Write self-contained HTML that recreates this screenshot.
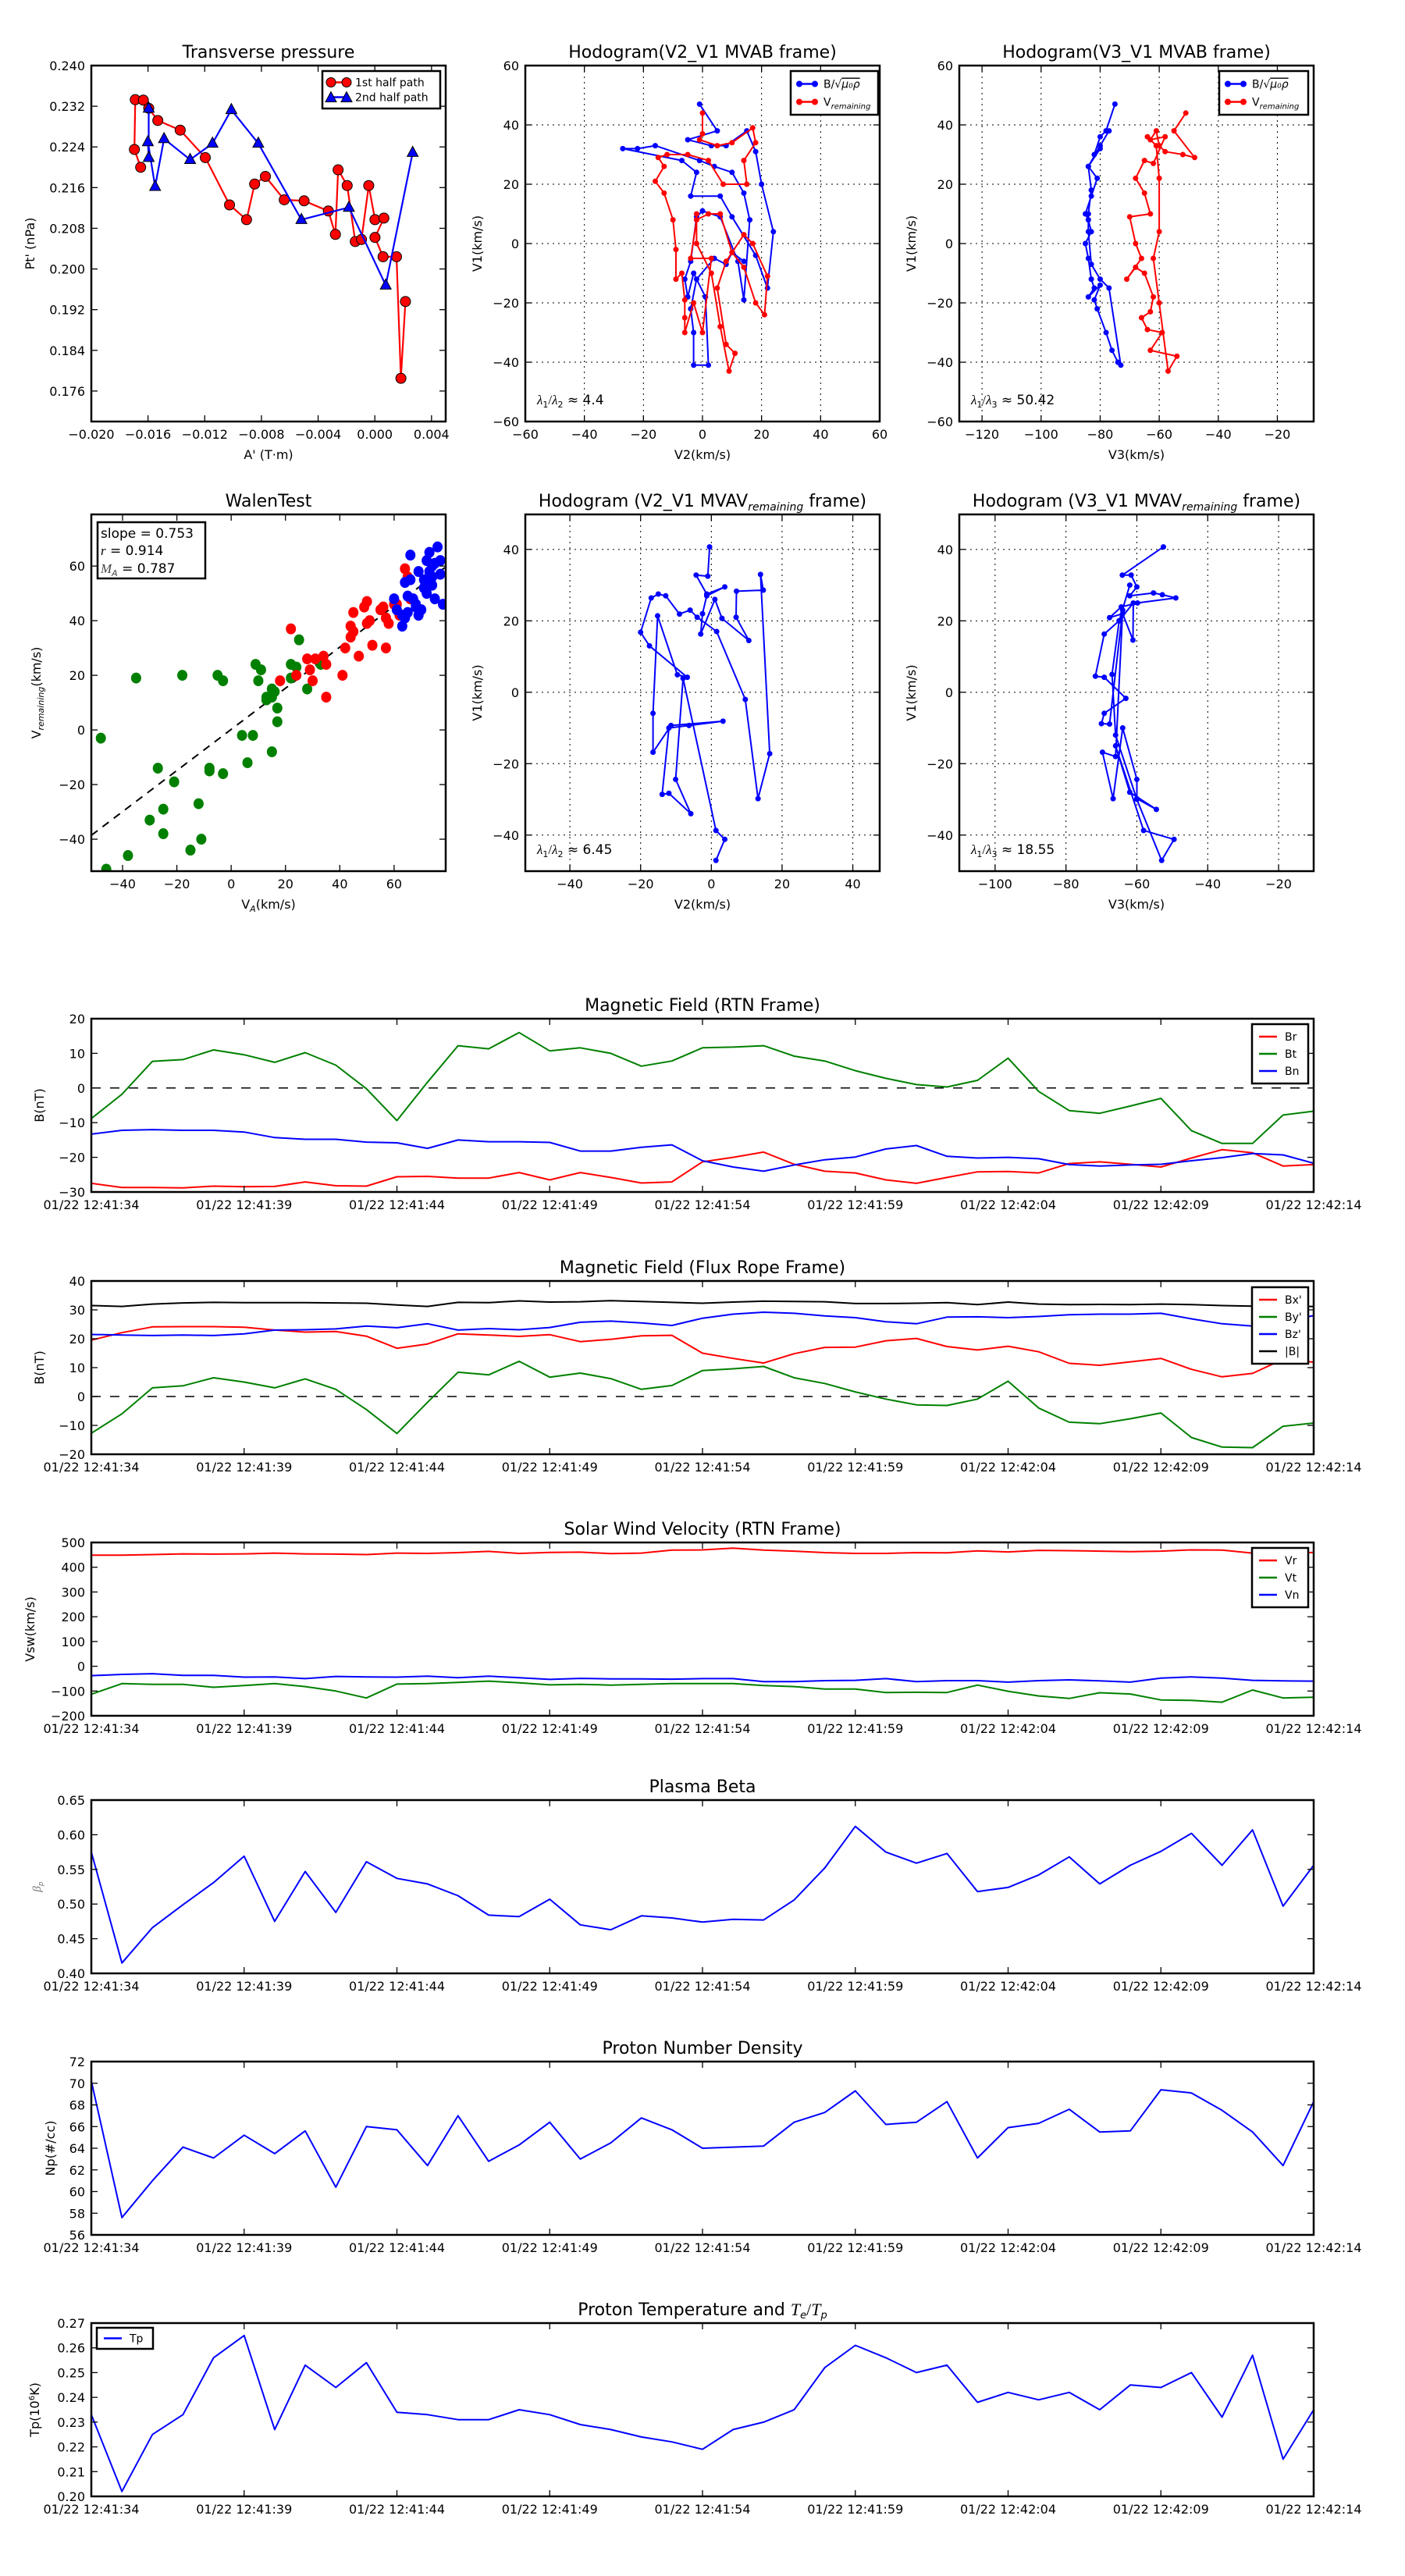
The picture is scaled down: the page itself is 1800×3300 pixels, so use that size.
<!DOCTYPE html>
<html><head><meta charset="utf-8"><title>MVA analysis figure</title>
<style>
html,body{margin:0;padding:0;background:#fff;}
svg{display:block;font-family:"DejaVu Sans","Liberation Sans",sans-serif;}
</style></head>
<body>
<svg id="fig" xmlns="http://www.w3.org/2000/svg" width="1800" height="3300" viewBox="0 0 1800 3300">
<rect x="0" y="0" width="1800" height="3300" fill="#fff"/>
</svg>
<script>
// ===== Time series data (t = 0..40 s from 12:41:34) =====
const timeTickLabels = ["01/22 12:41:34","01/22 12:41:39","01/22 12:41:44","01/22 12:41:49","01/22 12:41:54","01/22 12:41:59","01/22 12:42:04","01/22 12:42:09","01/22 12:42:14"];
const Br = [-27.5,-28.7,-28.7,-28.8,-28.3,-28.5,-28.4,-27.1,-28.2,-28.3,-25.6,-25.5,-26,-26,-24.4,-26.5,-24.4,-25.8,-27.4,-27.1,-21.3,-20,-18.5,-22,-24,-24.5,-26.5,-27.5,-25.8,-24.2,-24.1,-24.5,-21.8,-21.3,-22,-22.8,-20.2,-17.8,-18.7,-22.5,-22.1];
const Bt = [-8.8,-1.8,7.7,8.2,11,9.6,7.4,10.2,6.6,-0.2,-9.4,1.7,12.2,11.3,16,10.7,11.6,10,6.3,7.8,11.6,11.8,12.2,9.2,7.8,5,2.8,1,0.3,2.2,8.6,-1,-6.5,-7.3,-5.2,-3,-12.3,-16,-16,-7.8,-6.7];
const Bn = [-13.3,-12.2,-12,-12.2,-12.2,-12.7,-14.3,-14.8,-14.8,-15.6,-15.8,-17.4,-15,-15.5,-15.5,-15.7,-18.2,-18.2,-17.1,-16.4,-21,-22.8,-24,-22.2,-20.7,-19.9,-17.6,-16.6,-19.7,-20.2,-20,-20.4,-22.1,-22.5,-22.2,-22,-21,-20.1,-18.9,-19.3,-21.7];
const Bxp = [19.5,22.1,24.1,24.2,24.2,24,23,22.3,22.5,20.9,16.7,18.2,21.7,21.3,20.8,21.4,19,19.8,21,21.2,15,13.2,11.6,14.8,17,17.1,19.3,20.1,17.3,16.1,17.4,15.5,11.5,10.8,12,13.2,9.4,6.8,8,12.9,11.9];
const Byp = [-12.7,-6,3,3.7,6.5,5,3,6.1,2.5,-4.5,-12.8,-2,8.4,7.5,12.2,6.7,8.1,6.2,2.5,3.8,9,9.6,10.4,6.5,4.5,1.6,-0.9,-2.9,-3.1,-0.9,5.3,-4,-8.9,-9.4,-7.7,-5.7,-14.2,-17.5,-17.7,-10.3,-9.2];
const Bzp = [21.5,21.3,21.1,21.3,21.1,21.7,23,23.1,23.4,24.4,23.8,25.2,23,23.5,23.1,23.9,25.7,26.1,25.5,24.6,27.1,28.5,29.2,28.8,27.9,27.3,25.9,25.2,27.5,27.6,27.3,27.7,28.3,28.5,28.5,28.8,26.9,25.2,24.4,26,28];
const Bmag = [31.5,31.2,32,32.4,32.6,32.5,32.5,32.5,32.4,32.3,31.7,31.2,32.6,32.5,33.1,32.7,32.8,33.2,32.9,32.6,32.3,32.7,33,32.9,32.8,32.2,32.2,32.3,32.5,31.8,32.7,32,31.8,31.9,31.8,32,31.8,31.5,31.3,31.1,31.2];
const Vr = [449,449,451,454,453,454,457,454,453,451,457,456,459,464,456,460,461,455,457,469,470,477,469,465,459,456,456,459,458,466,462,468,467,465,463,465,470,469,457,455,460];
const Vt = [-113,-70,-73,-73,-85,-78,-70,-82,-100,-128,-72,-70,-65,-60,-67,-75,-73,-76,-73,-70,-70,-70,-78,-82,-92,-92,-106,-105,-106,-76,-101,-120,-130,-107,-112,-136,-138,-145,-96,-128,-125];
const Vn = [-38,-33,-30,-37,-37,-44,-43,-50,-41,-43,-44,-40,-46,-40,-46,-53,-49,-51,-51,-52,-50,-50,-62,-62,-58,-57,-50,-62,-58,-58,-64,-58,-55,-59,-64,-48,-43,-48,-57,-59,-60];
const beta = [0.575,0.415,0.466,0.499,0.531,0.569,0.475,0.547,0.488,0.561,0.537,0.529,0.512,0.484,0.482,0.507,0.470,0.463,0.483,0.480,0.474,0.478,0.477,0.506,0.552,0.612,0.575,0.559,0.573,0.518,0.524,0.542,0.568,0.529,0.556,0.576,0.602,0.556,0.607,0.497,0.556];
const Np = [70.2,57.6,61,64.1,63.1,65.2,63.5,65.6,60.4,66,65.7,62.4,67,62.8,64.3,66.4,63,64.5,66.8,65.7,64,64.1,64.2,66.4,67.3,69.3,66.2,66.4,68.3,63.1,65.9,66.3,67.6,65.5,65.6,69.4,69.1,67.5,65.5,62.4,68.3];
const Tp = [0.233,0.202,0.225,0.233,0.256,0.265,0.227,0.253,0.244,0.254,0.234,0.233,0.231,0.231,0.235,0.233,0.229,0.227,0.224,0.222,0.219,0.227,0.230,0.235,0.252,0.261,0.256,0.250,0.253,0.238,0.242,0.239,0.242,0.235,0.245,0.244,0.250,0.232,0.257,0.215,0.235];

// ===== Transverse pressure =====
const ptA1 = [-0.01652,-0.01696,-0.01690,-0.01633,-0.01595,-0.01531,-0.01373,-0.01196,-0.01025,-0.00905,-0.00848,-0.00772,-0.00639,-0.00499,-0.00328,-0.00278,-0.00259,-0.00195,-0.00138,-0.00094,-0.00043,0.00001,0.00064,0.00001,0.00058,0.00153,0.00184,0.00216];
const ptP1 = [0.2200,0.2235,0.2333,0.2332,0.2316,0.2292,0.2273,0.2219,0.2126,0.2097,0.2167,0.2182,0.2136,0.2134,0.2114,0.2068,0.2195,0.2164,0.2054,0.2058,0.2164,0.2097,0.2100,0.2062,0.2024,0.2024,0.1785,0.1936];
const ptA2 = [-0.01595,-0.01595,-0.01601,-0.01550,-0.01487,-0.01303,-0.01145,-0.01012,-0.00822,-0.00518,-0.00183,0.00077,0.00267];
const ptP2 = [0.2316,0.2219,0.2250,0.2162,0.2256,0.2215,0.2247,0.2313,0.2247,0.2097,0.2121,0.1968,0.2229];

// ===== Hodogram MVAB V2-V1 =====
const h1BV2 = [-1,5,-5,3,8,15,18,20,24,22,18,10,6,-4,-2,-7,-27,-22,-16,-1,4,10,14,16,14,12,6,0,-2,-4,-6,-5,-3,1,2,-3,-3,-4,-2,4,8,10,14];
const h1BV1 = [47,38,35,33,33,38,31,20,4,-15,-4,9,16,16,24,28,32,32,33,28,26,24,17,8,-19,-6,9,11,9,-6,-12,-18,-10,-18,-41,-41,-30,-22,-12,-5,-7,-3,-6];
const h1VV2 = [0,0,-1,5,10,17,18,14,15,7,2,-5,-12,-15,-13,-16,-13,-10,-9,-9,-7,-6,-6,-6,-3,0,3,-4,-2,2,6,10,14,18,21,22,17,14,8,5,8,11,9,6,3,-2,-2];
const h1VV1 = [44,37,35,33,34,39,34,28,20,20,28,30,30,29,26,21,17,8,-2,-12,-10,-19,-25,-30,-20,-30,-5,-5,8,10,10,-3,-8,-20,-24,-11,0,3,-6,-15,-34,-37,-43,-28,-10,0,10];
// ===== Hodogram MVAB V3-V1 =====
const h2BV3 = [-75,-78,-80,-82,-80,-84,-81,-83,-85,-84,-83,-85,-84,-83,-82,-84,-80,-82,-81,-78,-76,-74,-73,-77,-80,-83,-84,-84,-83,-84,-80,-77];
const h2BV1 = [47,38,36,30,32,26,22,16,10,8,4,0,-5,-12,-15,-18,-14,-19,-22,-30,-36,-40,-41,-15,-12,-7,4,10,18,26,33,38];
const h2VV3 = [-51,-55,-48,-52,-58,-60,-61,-63,-58,-62,-65,-68,-65,-63,-70,-68,-66,-71,-68,-65,-62,-63,-66,-64,-59,-63,-54,-57,-60,-62,-60,-60,-61,-64];
const h2VV1 = [44,38,29,30,31,33,38,35,36,27,28,22,17,10,9,0,-5,-12,-8,-10,-18,-23,-25,-29,-30,-36,-38,-43,-20,-5,4,22,33,36];
// ===== Walen test =====
const wGreenX = [-48,-35,-18,-5,-3,-27,-21,-8,-8,-3,-12,-25,-30,-25,-38,-11,-15,-46,4,8,6,15,10,11,9,13,15,15,17,17,22,22,24,25,28,33,16,13];
const wGreenY = [-3,19,20,20,18,-14,-19,-14,-15,-16,-27,-29,-33,-38,-46,-40,-44,-51,-2,-2,-12,-8,18,22,24,11,12,15,8,3,24,19,23,33,15,24,14,12];
const wRedX = [18,22,24,28,29,30,31,34,35,35,41,42,44,44,45,47,49,50,51,52,55,56,57,57,58,60,61,62,64,65,66,50,45];
const wRedY = [18,37,20,26,22,18,26,27,24,12,20,30,34,38,43,27,45,47,40,31,44,45,41,30,39,46,46,42,59,56,48,39,36];
const wBlueX = [60,61,63,64,65,66,66,67,68,69,70,71,71,72,73,74,74,75,75,76,77,78,77,64,68,63,69,72,74,73,65];
const wBlueY = [48,44,42,54,49,64,55,48,45,58,44,52,55,62,58,60,53,61,48,67,57,46,62,41,46,38,42,50,56,65,43];
const walenSlope = [0.753];
const walenIntercept = [0.2];
// ===== Hodogram MVAV V2-V1 =====
const h3V2 = [-0.5,-1,-4.3,-1.3,3.8,-1.3,-2.5,-3,1,3,10.6,7,7.1,14.7,13.9,16.5,13.2,9.6,1.5,-4,-6,-9,-12.9,-15,-17,-20,-17.5,-6.8,-9.6,-15.2,-16.5,-16.5,-11.4,3.3,-6.3,-12,-13.9,-12,-5.8,-10.1,-8,1.3,3.8,1.3];
const h3V1 = [40.7,32.5,32.8,27.5,29.5,27,22,16.3,26,20.7,14.5,21,28.3,28.6,33,-17.2,-29.8,-2,17,21,23,21.9,27,27.5,26.4,16.8,13,4.2,4.9,21.4,-5.9,-16.8,-9.3,-8.1,-9.3,-10,-28.6,-28.3,-34,-24.4,3.9,-38.7,-41.2,-47.1];
// ===== Hodogram MVAV V3-V1 =====
const h4V3 = [-52.5,-64.1,-61.6,-60,-62,-55.3,-52.8,-49,-59.8,-64.4,-67.7,-64,-61.1,-61,-65,-69.2,-71.7,-69.2,-63.1,-69.2,-70,-67.7,-64,-66,-69.7,-66.7,-64,-60,-60,-54.5,-62,-66,-58.1,-49.5,-53,-60,-66,-67,-65,-62];
const h4V1 = [40.7,32.8,32.8,29.5,27,27.8,27.3,26.4,25,23.9,20.9,22,14.6,25,20,16.3,4.5,4.2,-1.7,-5.9,-8.8,-8.9,23,-18,-16.8,-29.8,-10,-24.4,-29.8,-32.8,-28,-15,-38.7,-41.2,-47.1,-30,-12,5,20,30];

const NS = 'http://www.w3.org/2000/svg';
const svg = document.getElementById('fig');
function mk(tag, attrs, parent) {
  const e = document.createElementNS(NS, tag);
  for (const k in attrs) e.setAttribute(k, attrs[k]);
  (parent || svg).appendChild(e);
  return e;
}
function txt(str, x, y, size, anchor, parent, extra) {
  const t = mk('text', Object.assign({x: x, y: y, 'font-size': size, 'text-anchor': anchor || 'middle', fill: '#000'}, extra || {}), parent);
  t.textContent = str;
  return t;
}

function makeAxes(o) {
  const g = mk('g', {});
  
  
  const sx = v => o.x0 + (v - o.xmin) / (o.xmax - o.xmin) * o.w;
  const sy = v => o.y0 + o.h - (v - o.ymin) / (o.ymax - o.ymin) * o.h;
  // clip
  const cid = 'clip-' + o.name;
  const cp = mk('clipPath', {id: cid}, g);
  mk('rect', {x: o.x0, y: o.y0, width: o.w, height: o.h}, cp);
  const grid = mk('g', {}, g);
  
  
  const plot = mk('g', {'clip-path': 'url(#' + cid + ')'}, g);
  
  
  const ticksG = mk('g', {}, g);
  
  
  // x ticks
  o.xticks.forEach((v, i) => {
    const X = sx(v);
    if (o.grid) {
      const gl = mk('line', {x1: X, y1: o.y0, x2: X, y2: o.y0 + o.h, stroke: '#000', 'stroke-width': 1, 'stroke-dasharray': '2,5'}, grid);
      
      
    }
    mk('line', {x1: X, y1: o.y0 + o.h, x2: X, y2: o.y0 + o.h - 8, stroke: '#000', 'stroke-width': 1.3}, ticksG);
    mk('line', {x1: X, y1: o.y0, x2: X, y2: o.y0 + 8, stroke: '#000', 'stroke-width': 1.3}, ticksG);
    const lab = txt(o.xlabels[i], X, o.y0 + o.h + 22, 16, 'middle', ticksG);
    
    
  });
  o.yticks.forEach((v, i) => {
    const Y = sy(v);
    if (o.grid) {
      const gl = mk('line', {x1: o.x0, y1: Y, x2: o.x0 + o.w, y2: Y, stroke: '#000', 'stroke-width': 1, 'stroke-dasharray': '2,5'}, grid);
      
      
    }
    mk('line', {x1: o.x0, y1: Y, x2: o.x0 + 8, y2: Y, stroke: '#000', 'stroke-width': 1.3}, ticksG);
    mk('line', {x1: o.x0 + o.w, y1: Y, x2: o.x0 + o.w - 8, y2: Y, stroke: '#000', 'stroke-width': 1.3}, ticksG);
    const lab = txt(o.ylabels[i], o.x0 - 8, Y + 6, 16, 'end', ticksG);
    
    
  });
  const frame = mk('rect', {x: o.x0, y: o.y0, width: o.w, height: o.h, fill: 'none', stroke: '#000', 'stroke-width': 2.5}, g);
  
  
  if (o.title) {
    const t = txt('', o.x0 + o.w / 2, o.y0 - 10, 22, 'middle', g);
    t.innerHTML = o.title;
    
    
  }
  if (o.xtitle) {
    const t = txt('', o.x0 + o.w / 2, o.y0 + o.h + 48, 16, 'middle', g);
    t.innerHTML = o.xtitle;
    
    
  }
  if (o.ytitle) {
    const yx = o.ytx, yy = o.y0 + o.h / 2;
    const t = txt('', yx, yy, o.ytsize || 16, 'middle', g, {transform: 'rotate(-90 ' + yx + ' ' + yy + ')', fill: o.ytcolor || '#000'});
    t.innerHTML = o.ytitle;
    
    
  }
  return {sx, sy, plot, g};
}

function line(ax, xs, ys, color, name, width, dots, dotR) {
  const pts = xs.map((x, i) => ax.sx(x).toFixed(1) + ',' + ax.sy(ys[i]).toFixed(1)).join(' ');
  const pl = mk('polyline', {points: pts, fill: 'none', stroke: color, 'stroke-width': width || 2, 'stroke-linejoin': 'round'}, ax.plot);
  
  
  if (dots) {
    xs.forEach((x, i) => {
      const c = mk('circle', {cx: ax.sx(x), cy: ax.sy(ys[i]), r: dotR || 4, fill: color}, ax.plot);
      
      
    });
  }
  return pl;
}

function legend(g, x, y, w, entries, rowH, fs) {
  const lg = mk('g', {}, g);
  
  
  const box = mk('rect', {x: x, y: y, width: w, height: entries.length * rowH + 10, fill: '#fff', stroke: '#000', 'stroke-width': 2.5}, lg);
  
  
  entries.forEach((e, i) => {
    const cy = y + 5 + rowH * (i + 0.5);
    const eg = mk('g', {}, lg);
    
    
    mk('line', {x1: x + 9, y1: cy, x2: x + 32, y2: cy, stroke: e.color, 'stroke-width': 2.5}, eg);
    if (e.marker === 'circle') { mk('circle', {cx: x + 11, cy: cy, r: e.r || 6, fill: e.color, stroke: e.edge || 'none', 'stroke-width': 1}, eg); mk('circle', {cx: x + 31, cy: cy, r: e.r || 6, fill: e.color, stroke: e.edge || 'none', 'stroke-width': 1}, eg); }
    if (e.marker === 'tri') { [x + 11, x + 31].forEach(px => mk('polygon', {points: (px) + ',' + (cy - 7) + ' ' + (px - 7) + ',' + (cy + 6) + ' ' + (px + 7) + ',' + (cy + 6), fill: e.color, stroke: '#000', 'stroke-width': 1}, eg)); }
    const t = txt('', x + 42, cy + 5, fs || 14, 'start', eg);
    t.innerHTML = e.label;
  });
}

function rng(a, b, s) { const r = []; for (let v = a; v <= b + 1e-9; v += s) r.push(+v.toFixed(6)); return r; }
const tIdx = Br.map((_, i) => i);

// ---------- Transverse pressure ----------
{
  const xt = rng(-0.020, 0.004, 0.004), yt = rng(0.176, 0.240, 0.008);
  const ax = makeAxes({name: 'transverse-pressure', x0: 117, y0: 84, w: 454, h: 456, xmin: -0.020, xmax: 0.005, ymin: 0.170, ymax: 0.240,
    xticks: xt, xlabels: xt.map(v => (v < 0 ? '\u2212' : '') + Math.abs(v).toFixed(3)), yticks: yt, ylabels: yt.map(v => v.toFixed(3)),
    title: 'Transverse pressure', xtitle: "A' (T\u00b7m)", ytitle: "Pt' (nPa)", ytx: 44});
  line(ax, ptA1, ptP1, '#ff0000', 'first-half-path', 2.2);
  ptA1.forEach((a, i) => { const c = mk('circle', {cx: ax.sx(a), cy: ax.sy(ptP1[i]), r: 6.5, fill: '#ff0000', stroke: '#000', 'stroke-width': 1}, ax.plot);
      });
  line(ax, ptA2, ptP2, '#0000ff', 'second-half-path', 2.2);
  ptA2.forEach((a, i) => { const X = ax.sx(a), Y = ax.sy(ptP2[i]);
    const p = mk('polygon', {points: X + ',' + (Y - 8) + ' ' + (X - 7) + ',' + (Y + 5) + ' ' + (X + 7) + ',' + (Y + 5), fill: '#0000ff', stroke: '#000', 'stroke-width': 1}, ax.plot);
      });
  legend(ax.g, 413, 91, 151, [{color: '#ff0000', marker: 'circle', edge: '#000', label: '1st half path'}, {color: '#0000ff', marker: 'tri', label: '2nd half path'}], 19, 14);
}

const sqrtLbl = 'B/\u221a<tspan font-style="italic" text-decoration="overline">\u03bc\u2080\u03c1</tspan>';
const vremLbl = 'V<tspan font-size="10" font-style="italic" dy="4">remaining</tspan>';

// ---------- Hodogram V2_V1 MVAB ----------
{
  const t = rng(-60, 60, 20);
  const ax = makeAxes({name: 'hodogram-v2-v1-mvab', x0: 673, y0: 84, w: 454, h: 456, xmin: -60, xmax: 60, ymin: -60, ymax: 60, grid: true,
    xticks: t, xlabels: t.map(v => String(v).replace('-', '\u2212')), yticks: t, ylabels: t.map(v => String(v).replace('-', '\u2212')),
    title: 'Hodogram(V2_V1 MVAB frame)', xtitle: 'V2(km/s)', ytitle: 'V1(km/s)', ytx: 617});
  line(ax, h1BV2, h1BV1, '#0000ff', 'b-hodogram-line', 2, true, 3.5);
  line(ax, h1VV2, h1VV1, '#ff0000', 'v-hodogram-line', 2, true, 3.5);
  legend(ax.g, 1013, 91, 112, [{color: '#0000ff', marker: 'circle', r: 4, label: sqrtLbl}, {color: '#ff0000', marker: 'circle', r: 4, label: vremLbl}], 23, 14);
  const l = txt('', 688, 518, 17, 'start', ax.g); l.innerHTML = '<tspan font-style="italic" font-family="Liberation Serif">\u03bb</tspan><tspan font-size="11" dy="4">1</tspan><tspan dy="-4" font-family="Liberation Serif">/</tspan><tspan font-style="italic" font-family="Liberation Serif">\u03bb</tspan><tspan font-size="11" dy="4">2</tspan><tspan dy="-4"> \u2248 4.4</tspan>';
   
}
// ---------- Hodogram V3_V1 MVAB ----------
{
  const xt = rng(-120, -20, 20), yt = rng(-60, 60, 20);
  const ax = makeAxes({name: 'hodogram-v3-v1-mvab', x0: 1229, y0: 84, w: 454, h: 456, xmin: -127.7, xmax: -7.7, ymin: -60, ymax: 60, grid: true,
    xticks: xt, xlabels: xt.map(v => String(v).replace('-', '\u2212')), yticks: yt, ylabels: yt.map(v => String(v).replace('-', '\u2212')),
    title: 'Hodogram(V3_V1 MVAB frame)', xtitle: 'V3(km/s)', ytitle: 'V1(km/s)', ytx: 1173});
  line(ax, h2BV3, h2BV1, '#0000ff', 'b-hodogram-line', 2, true, 3.5);
  line(ax, h2VV3, h2VV1, '#ff0000', 'v-hodogram-line', 2, true, 3.5);
  legend(ax.g, 1562, 91, 114, [{color: '#0000ff', marker: 'circle', r: 4, label: sqrtLbl}, {color: '#ff0000', marker: 'circle', r: 4, label: vremLbl}], 23, 14);
  const l = txt('', 1244, 518, 17, 'start', ax.g); l.innerHTML = '<tspan font-style="italic" font-family="Liberation Serif">\u03bb</tspan><tspan font-size="11" dy="4">1</tspan><tspan dy="-4" font-family="Liberation Serif">/</tspan><tspan font-style="italic" font-family="Liberation Serif">\u03bb</tspan><tspan font-size="11" dy="4">3</tspan><tspan dy="-4"> \u2248 50.42</tspan>';
   
}
// ---------- Walen test ----------
{
  const t = rng(-40, 60, 20);
  const ax = makeAxes({name: 'walen-test', x0: 117, y0: 659, w: 454, h: 457, xmin: -51.5, xmax: 79, ymin: -51.7, ymax: 78.9,
    xticks: t, xlabels: t.map(v => String(v).replace('-', '\u2212')), yticks: t, ylabels: t.map(v => String(v).replace('-', '\u2212')),
    title: 'WalenTest', xtitle: 'V<tspan font-size="11" font-style="italic" dy="4">A</tspan><tspan dy="-4">(km/s)</tspan>', ytitle: 'V<tspan font-size="11" font-style="italic" dy="4">remaining</tspan><tspan dy="-4">(km/s)</tspan>', ytx: 52});
  const xs = [-51.5, 79];
  const dl = mk('line', {x1: ax.sx(xs[0]), y1: ax.sy(walenSlope[0] * xs[0] + walenIntercept[0]), x2: ax.sx(xs[1]), y2: ax.sy(walenSlope[0] * xs[1] + walenIntercept[0]), stroke: '#000', 'stroke-width': 2, 'stroke-dasharray': '10,8'}, ax.plot);
   
  [[wGreenX, wGreenY, '#008000', 'green'], [wRedX, wRedY, '#ff0000', 'red'], [wBlueX, wBlueY, '#0000ff', 'blue']].forEach(s => {
    s[0].forEach((x, i) => { const c = mk('ellipse', {cx: ax.sx(x), cy: ax.sy(s[1][i]), rx: 6.5, ry: 7, fill: s[2]}, ax.plot);
        });
  });
  const box = mk('rect', {x: 125, y: 669, width: 138, height: 72, fill: '#fff', stroke: '#000', 'stroke-width': 2.5}, ax.g);
   
  const s1 = txt('slope = 0.753', 129, 689, 17, 'start', ax.g);  
  const s2 = txt('', 129, 711, 17, 'start', ax.g); s2.innerHTML = '<tspan font-style="italic" font-family="Liberation Serif">r</tspan> = 0.914';  
  const s3 = txt('', 129, 734, 17, 'start', ax.g); s3.innerHTML = '<tspan font-style="italic" font-family="Liberation Serif" fill="#444">M</tspan><tspan font-size="11" font-style="italic" dy="4" fill="#444">A</tspan><tspan dy="-4"> = 0.787</tspan>';  
}
// ---------- Hodogram V2_V1 MVAV ----------
{
  const xt = rng(-40, 40, 20), yt = rng(-40, 40, 20);
  const ax = makeAxes({name: 'hodogram-v2-v1-mvav', x0: 673, y0: 659, w: 454, h: 457, xmin: -52.6, xmax: 47.6, ymin: -50.1, ymax: 49.8, grid: true,
    xticks: xt, xlabels: xt.map(v => String(v).replace('-', '\u2212')), yticks: yt, ylabels: yt.map(v => String(v).replace('-', '\u2212')),
    title: 'Hodogram (V2_V1 MVAV<tspan font-size="14" font-style="italic" dy="5">remaining</tspan><tspan dy="-5"> frame)</tspan>', xtitle: 'V2(km/s)', ytitle: 'V1(km/s)', ytx: 617});
  line(ax, h3V2, h3V1, '#0000ff', 'v-hodogram-line', 2, true, 3.5);
  const l = txt('', 688, 1094, 17, 'start', ax.g); l.innerHTML = '<tspan font-style="italic" font-family="Liberation Serif">\u03bb</tspan><tspan font-size="11" dy="4">1</tspan><tspan dy="-4" font-family="Liberation Serif">/</tspan><tspan font-style="italic" font-family="Liberation Serif">\u03bb</tspan><tspan font-size="11" dy="4">2</tspan><tspan dy="-4"> \u2248 6.45</tspan>';
   
}
// ---------- Hodogram V3_V1 MVAV ----------
{
  const xt = rng(-100, -20, 20), yt = rng(-40, 40, 20);
  const ax = makeAxes({name: 'hodogram-v3-v1-mvav', x0: 1229, y0: 659, w: 454, h: 457, xmin: -110.1, xmax: -10.1, ymin: -50.1, ymax: 49.8, grid: true,
    xticks: xt, xlabels: xt.map(v => String(v).replace('-', '\u2212')), yticks: yt, ylabels: yt.map(v => String(v).replace('-', '\u2212')),
    title: 'Hodogram (V3_V1 MVAV<tspan font-size="14" font-style="italic" dy="5">remaining</tspan><tspan dy="-5"> frame)</tspan>', xtitle: 'V3(km/s)', ytitle: 'V1(km/s)', ytx: 1173});
  line(ax, h4V3, h4V1, '#0000ff', 'v-hodogram-line', 2, true, 3.5);
  const l = txt('', 1244, 1094, 17, 'start', ax.g); l.innerHTML = '<tspan font-style="italic" font-family="Liberation Serif">\u03bb</tspan><tspan font-size="11" dy="4">1</tspan><tspan dy="-4" font-family="Liberation Serif">/</tspan><tspan font-style="italic" font-family="Liberation Serif">\u03bb</tspan><tspan font-size="11" dy="4">3</tspan><tspan dy="-4"> \u2248 18.55</tspan>';
   
}

// ---------- Time series panels ----------
const tTicks = rng(0, 40, 5);
function tsPanel(name, top, ymin, ymax, ystep, dec, title, ytitle, ytx, opts) {
  const yt = rng(ymin, ymax, ystep);
  return makeAxes(Object.assign({name: name, x0: 117, y0: top, w: 1566, h: 222, xmin: 0, xmax: 40, ymin: ymin, ymax: ymax,
    xticks: tTicks, xlabels: timeTickLabels, yticks: yt, ylabels: yt.map(v => (v < 0 ? '\u2212' : '') + Math.abs(v).toFixed(dec)),
    title: title, ytitle: ytitle, ytx: ytx}, opts || {}));
}
function zeroLine(ax) {
  const z = mk('line', {x1: ax.sx(0), y1: ax.sy(0), x2: ax.sx(40), y2: ax.sy(0), stroke: '#000', 'stroke-width': 1.5, 'stroke-dasharray': '12,12'}, ax.plot);
   
}
{
  const ax = tsPanel('magnetic-field-rtn', 1305, -30, 20, 10, 0, 'Magnetic Field (RTN Frame)', 'B(nT)', 56);
  zeroLine(ax);
  line(ax, tIdx, Br, '#ff0000', 'br-line'); line(ax, tIdx, Bt, '#008000', 'bt-line'); line(ax, tIdx, Bn, '#0000ff', 'bn-line');
  legend(ax.g, 1604, 1312, 72, [{color: '#ff0000', label: 'Br'}, {color: '#008000', label: 'Bt'}, {color: '#0000ff', label: 'Bn'}], 22, 14);
}
{
  const ax = tsPanel('magnetic-field-flux-rope', 1641, -20, 40, 10, 0, 'Magnetic Field (Flux Rope Frame)', 'B(nT)', 56);
  zeroLine(ax);
  line(ax, tIdx, Bxp, '#ff0000', 'bx-line'); line(ax, tIdx, Byp, '#008000', 'by-line'); line(ax, tIdx, Bzp, '#0000ff', 'bz-line'); line(ax, tIdx, Bmag, '#000000', 'bmag-line');
  legend(ax.g, 1604, 1649, 72, [{color: '#ff0000', label: "Bx'"}, {color: '#008000', label: "By'"}, {color: '#0000ff', label: "Bz'"}, {color: '#000', label: '|B|'}], 22, 14);
}
{
  const ax = tsPanel('solar-wind-velocity', 1976, -200, 500, 100, 0, 'Solar Wind Velocity (RTN Frame)', 'Vsw(km/s)', 44);
  line(ax, tIdx, Vr, '#ff0000', 'vr-line'); line(ax, tIdx, Vt, '#008000', 'vt-line'); line(ax, tIdx, Vn, '#0000ff', 'vn-line');
  legend(ax.g, 1604, 1983, 72, [{color: '#ff0000', label: 'Vr'}, {color: '#008000', label: 'Vt'}, {color: '#0000ff', label: 'Vn'}], 22, 14);
}
{
  const ax = tsPanel('plasma-beta', 2306, 0.40, 0.65, 0.05, 2, 'Plasma Beta', '<tspan font-style="italic" font-family="Liberation Serif">\u03b2</tspan><tspan font-size="9" font-style="italic" dy="3">p</tspan>', 52, {ytcolor: '#777', ytsize: 15});
  line(ax, tIdx, beta, '#0000ff', 'beta-line');
}
{
  const ax = tsPanel('proton-density', 2641, 56, 72, 2, 0, 'Proton Number Density', 'Np(#/cc)', 70);
  line(ax, tIdx, Np, '#0000ff', 'density-line');
}
{
  const ax = tsPanel('proton-temperature', 2976, 0.20, 0.27, 0.01, 2, 'Proton Temperature and <tspan font-style="italic" font-family="Liberation Serif">T</tspan><tspan font-size="13" font-style="italic" dy="4">e</tspan><tspan dy="-4" font-family="Liberation Serif">/</tspan><tspan font-style="italic" font-family="Liberation Serif">T</tspan><tspan font-size="13" font-style="italic" dy="4">p</tspan>', 'Tp(10<tspan font-size="10" dy="-6">6</tspan><tspan dy="6">K)</tspan>', 50);
  line(ax, tIdx, Tp, '#0000ff', 'temperature-line');
  legend(ax.g, 124, 2982, 72, [{color: '#0000ff', label: 'Tp'}], 17, 14);
}
</script>
</body></html>
